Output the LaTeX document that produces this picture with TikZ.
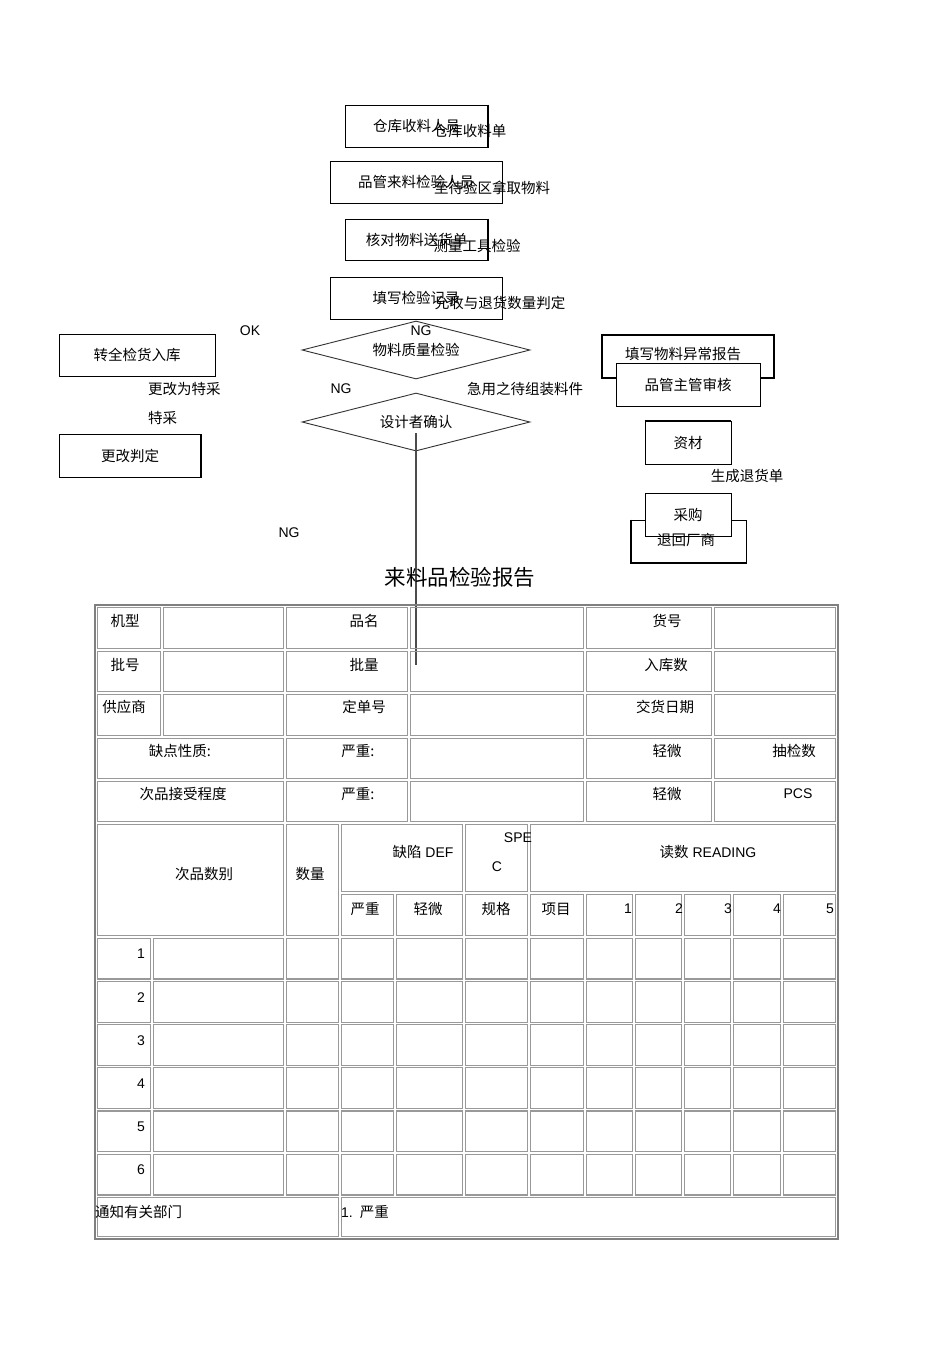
\documentclass[tikz,border=0pt]{standalone}
\usepackage{fontspec}
\setmainfont{Liberation Sans}
\newfontfamily\cjk{Noto Sans CJK SC}
\usetikzlibrary{shapes.geometric}
\newcommand\fs{\fontsize{14.5}{17}\selectfont}
\newcommand\fsen{\fontsize{14}{17}\selectfont}
\tikzset{
  box/.style={draw, line width=0.8pt, fill=white, inner sep=0pt, font=\cjk\fs},
  cn/.style={inner sep=0pt, font=\cjk\fs},
  en/.style={inner sep=0pt, font=\fsen},
  dia/.style={draw=black!80, diamond, line width=0.9pt, inner sep=0pt, minimum width=228pt, minimum height=58pt, aspect=3.9, font=\cjk\fs},
  thk/.style={line width=2pt},
  cellln/.style={draw=black!40, line width=1.2pt},
  outerln/.style={draw=black!50, line width=1.2pt},
  conn/.style={draw=black!70, line width=1.1pt},
}
\begin{document}
\begin{tikzpicture}[x=1pt,y=-1pt]
\useasboundingbox[fill=white] (0,0) rectangle (950,1345);

% ---------- central column of boxes ----------
\node[box, minimum width=143pt, minimum height=42pt] (b1) at (416.5,126) {仓库收料人员};
\draw[thk] (b1.north east) -- (b1.south east);
\node[box, minimum width=172pt, minimum height=42pt] (b2) at (416,182) {品管来料检验人员};
\node[box, minimum width=143pt, minimum height=41pt] (b3) at (416.5,239.5) {核对物料送货单};
\draw[thk] (b3.north east) -- (b3.south east);
\node[box, minimum width=172pt, minimum height=42pt] (b4) at (416,298) {填写检验记录};

\node[cn] (l1) at (470,131) {仓库收料单};
\node[cn] (l2) at (492,188) {至待验区拿取物料};
\node[cn] (l3) at (477,246) {测量工具检验};
\node[cn] (l4) at (500,303) {允收与退货数量判定};

% ---------- diamonds ----------
\node[dia] (d1) at (416,350) {物料质量检验};
\node[dia] (d2) at (416,422) {设计者确认};
\node[en] (ng1) at (421,331) {NG};
\node[en] (ok) at (250,331) {OK};
\node[en] (ng2) at (341,389) {NG};
\node[cn] (urg) at (525,389) {急用之待组装料件};
\node[en] (ng3) at (289,533) {NG};

\coordinate (vend) at (416,665);
\draw[conn] (d2.center) ++(0,11) -- (vend);

% ---------- left ----------
\node[box, minimum width=156pt, minimum height=42pt] (lb1) at (137,355) {转全检货入库};
\node[cn, anchor=west] (sp1) at (148,389) {更改为特采};
\node[cn, anchor=west] (sp2) at (148,418) {特采};
\node[box, minimum width=142pt, minimum height=43pt] (lb2) at (130,455.5) {更改判定};
\draw[thk] (lb2.north east) -- (lb2.south east);

% ---------- right ----------
\node[box, line width=1.6pt, minimum width=172pt, minimum height=43pt] (r1) at (688,356.5) {};
\node[cn] (r1t) at (683,354) {填写物料异常报告};
\node[box, minimum width=144pt, minimum height=43pt] (r2) at (688,384.5) {品管主管审核};
\node[box, minimum width=86pt, minimum height=43pt] (r3) at (688,442.5) {资材};
\draw[thk] (r3.north west) -- (r3.north east);
\node[cn] (ret) at (747,476) {生成退货单};
\node[box, minimum width=115pt, minimum height=43pt] (r5) at (688.5,541.5) {};
\draw[thk] (r5.north west) -- (r5.south west) -- (r5.south east);
\node[box, minimum width=86pt, minimum height=43pt] (r4) at (688,514.5) {采购};
\node[cn] (r5t) at (686,540) {退回厂商};

% ---------- title ----------
\node[inner sep=0pt, font=\cjk\fontsize{21.5}{24}\selectfont] (title) at (460,577) {来料品检验报告};

% ---------- table ----------
\draw[outerln] (95,605) rectangle (838,1239);
\foreach \ya/\yb in {606/650,650/693,693/737}
  \foreach \xa/\xb in {96/162,162/285,285/409,409/585,585/713,713/837}
    \draw[cellln] (\xa+1.2,\ya+1.2) rectangle (\xb-1.2,\yb-1.2);
\foreach \ya/\yb in {737/780,780/823}
  \foreach \xa/\xb in {96/285,285/409,409/585,585/713,713/837}
    \draw[cellln] (\xa+1.2,\ya+1.2) rectangle (\xb-1.2,\yb-1.2);
\foreach \xa/\ya/\xb/\yb in {96/823/285/937,285/823/340/937,340/823/464/893,464/823/529/893,529/823/837/893}
  \draw[cellln] (\xa+1.2,\ya+1.2) rectangle (\xb-1.2,\yb-1.2);
\foreach \xa/\xb in {340/395,395/464,464/529,529/585,585/634,634/683,683/732,732/782,782/837}
  \draw[cellln] (\xa+1.2,894.2) rectangle (\xb-1.2,935.8);
\foreach \k in {0,...,5}
  \foreach \xa/\xb in {96/152,152/285,285/340,340/395,395/464,464/529,529/585,585/634,634/683,683/732,732/782,782/837}
    \draw[cellln] (\xa+1.2,{937+43.2*\k+1.2}) rectangle (\xb-1.2,{937+43.2*(\k+1)-1.2});
\foreach \xa/\xb in {96/340,340/837}
  \draw[cellln] (\xa+1.2,1197.2) rectangle (\xb-1.2,1236.8);

% table texts
\node[cn] (c11) at (125,621) {机型};
\node[cn] (c12) at (364,621) {品名};
\node[cn] (c13) at (667,621) {货号};
\node[cn] (c21) at (125,665) {批号};
\node[cn] (c22) at (364,665) {批量};
\node[cn] (c23) at (666,665) {入库数};
\node[cn] (c31) at (124,707) {供应商};
\node[cn] (c32) at (364,707) {定单号};
\node[cn] (c33) at (665,707) {交货日期};
\node[cn] (c41) at (180,751) {缺点性质:};
\node[cn] (c42) at (358,751) {严重:};
\node[cn] (c43) at (667,751) {轻微};
\node[cn] (c44) at (794,751) {抽检数};
\node[cn] (c51) at (183,794) {次品接受程度};
\node[cn] (c52) at (358,794) {严重:};
\node[cn] (c53) at (667,794) {轻微};
\node[en] (c54) at (798,794) {PCS};
\node[cn] (h1) at (204,874) {次品数别};
\node[cn] (h2) at (310,874) {数量};
\node[en] (h3) at (423,852) {{\cjk\fs 缺陷} DEF};
\node[en] (h4) at (518,838) {SPE};
\node[en] (h5) at (497,867) {C};
\node[en] (h6) at (708,852) {{\cjk\fs 读数} READING};
\node[cn] (s1) at (365,909) {严重};
\node[cn] (s2) at (428,909) {轻微};
\node[cn] (s3) at (496,909) {规格};
\node[cn] (s4) at (556,909) {项目};
\foreach \n/\x in {1/632,2/683,3/732,4/781,5/834}
  \node[en, anchor=east] (n\n) at (\x,909) {\n};
\foreach \k in {1,...,6}
  \node[en, anchor=east] (r\k) at (145,{954+43.2*(\k-1)}) {\k};
\node[cn, anchor=west] (f1) at (95,1212) {通知有关部门};
\node[en, anchor=west] (f2) at (341,1212) {1.\enspace{\cjk\fs 严重}};
\end{tikzpicture}
\end{document}
